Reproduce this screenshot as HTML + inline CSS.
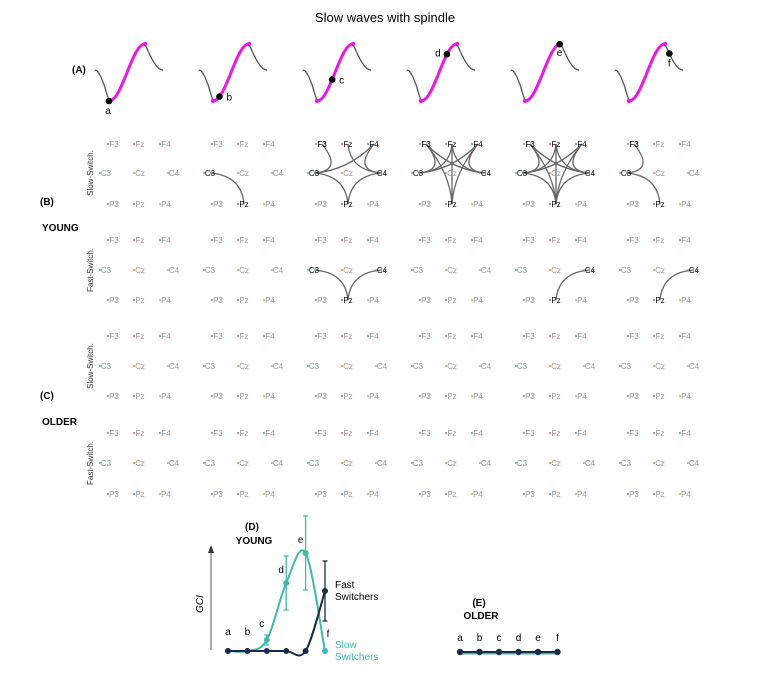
<!DOCTYPE html>
<html><head><meta charset="utf-8">
<style>
body{margin:0;background:#fff;font-family:"Liberation Sans",sans-serif}
svg text{font-family:"Liberation Sans",sans-serif}
</style></head>
<body>
<svg id="fig" width="769" height="674" viewBox="0 0 769 674">
<text x="385" y="22" font-size="13" text-anchor="middle">Slow waves with spindle</text>
<text x="72" y="73" font-size="10" font-weight="bold">(A)</text>
<text x="40" y="205" font-size="10" font-weight="bold">(B)</text>
<text x="42" y="231" font-size="10" font-weight="bold">YOUNG</text>
<text x="40" y="399" font-size="10" font-weight="bold">(C)</text>
<text x="42" y="425" font-size="10" font-weight="bold">OLDER</text>
<g id="waves"></g>
<g id="nets"></g>
<g id="pd"></g>
<g id="pe"></g>
</svg>
<script>
const NS="http://www.w3.org/2000/svg";
function mk(t,a,p){const e=document.createElementNS(NS,t);for(const k in a)e.setAttribute(k,a[k]);p.appendChild(e);return e;}
// ---------- Panel A: waves ----------
const phaseLabels=["a","b","c","d","e","f"];
const phasePos=[0,0.18,0.42,0.72,0.96,1.12]; // position along rising phase (0=trough,1=peak)
const colX=[140,244,348,452,556,660];
const W=document.getElementById('waves');
function wave(cx,t){ // t from -0.4 to 1.5 ; trough at 0, peak at 1
  const x=cx-30+t*35; const y=72-28*Math.cos(Math.PI*(t<0?t*1.8:t))*1; return [x,y];}
function wpt(cx,t){const x=cx-31+t*36;let y;
 if(t<0){y=101-31*Math.sin(Math.PI/2*(-t/0.4));}else if(t<=1){y=72.5+28.5*Math.cos(Math.PI*t);}else{y=44+26*Math.sin(Math.PI/2*((t-1)/0.5));}
 return [x,y];}
colX.forEach((cx,i)=>{
  let d="";for(let t=-0.4;t<=1.501;t+=0.02){const p=wpt(cx,t);d+=(d?"L":"M")+p[0].toFixed(1)+","+p[1].toFixed(1);}
  const g=mk('path',{d:d,fill:"none",stroke:"#555","stroke-width":1.3},W);
  
  let d2="";for(let t=0;t<=1.001;t+=0.02){const p=wpt(cx,t);d2+=(d2?"L":"M")+p[0].toFixed(1)+","+p[1].toFixed(1);}
  const m=mk('path',{d:d2,fill:"none",stroke:"#e619e6","stroke-width":3},W);
  
  const p0=wpt(cx,0),p1=wpt(cx,1);
  mk('circle',{cx:p0[0],cy:p0[1],r:2.2,fill:"#e619e6"},W);mk('circle',{cx:p1[0],cy:p1[1],r:2.2,fill:"#e619e6"},W);
  const q=wpt(cx,phasePos[i]);
  const dot=mk('circle',{cx:q[0],cy:q[1],r:3.3,fill:"#000"},W);
  
  const lo=[[0,13],[7,4],[7,4],[-9,2],[0,12],[0,13]][i];
  const tx=mk('text',{x:q[0]+lo[0]+(i==0?-1:0),y:q[1]+lo[1]+(i==0?0:0),"font-size":10,"text-anchor":i==3?"middle":"start"},W);
  tx.textContent=phaseLabels[i];
  if(i==0){tx.setAttribute('text-anchor','middle');}
  if(i>=4){tx.setAttribute('text-anchor','middle');}
});
// ---------- Networks ----------
const nodeNames=["F3","Fz","F4","C3","Cz","C4","P3","Pz","P4"];
const nodeDx=[-26,0,26,-34,0,34,-26,0,26];
const nodeRow=[0,0,0,1,1,1,2,2,2];
const nodeCol=["#c0392b","#c0392b","#2c6fb0","#2c8fb0","#c87030","#888","#7a4aa0","#2c6fb0","#b09a20"];
const blockY=[[144,173,204],[240,270,300],[336,366,396],[433,463,494]];
const youngSlowEdges=[[],["C3-Pz"],["F3-C3","Fz-C4","F4-C3","F4-C4","C3-Pz","C4-Pz"],
 ["F3-C3","F3-C4","F3-Pz","Fz-C3","Fz-C4","Fz-Pz","F4-C3","F4-C4","F4-Pz"],
 ["F3-C3","F3-C4","F3-Pz","Fz-C3","Fz-C4","Fz-Pz","F4-C3","F4-C4","F4-Pz","C3-Pz","C4-Pz"],
 ["F3-C3","C3-Pz"]];
const youngFastEdges=[[],[],["C3-Pz","C4-Pz"],[],["C4-Pz"],["C4-Pz"]];
const olderSlowEdges=[[],[],[],[],[],[]];
const olderFastEdges=[[],[],[],[],[],[]];
const blocks=[youngSlowEdges,youngFastEdges,olderSlowEdges,olderFastEdges];
const N=document.getElementById('nets');
const rl=[["Slow-Switch.",173],["Fast-Switch.",270],["Slow-Switch.",366],["Fast-Switch.",463]];
rl.forEach(r=>{const t=mk('text',{x:0,y:0,"font-size":8,"text-anchor":"middle",fill:"#333",transform:`translate(93,${r[1]}) rotate(-90)`},N);t.textContent=r[0];
 });
blocks.forEach((blk,bi)=>{colX.forEach((cx,ci)=>{
  const g=mk('g',{},N);
  const pos=n=>{const k=nodeNames.indexOf(n);return [cx+nodeDx[k],blockY[bi][nodeRow[k]]];};
  const active=new Set();const ctr=[cx,blockY[bi][1]];
  blk[ci].forEach(e=>{const [a,b]=e.split("-");active.add(a);active.add(b);
    const p=pos(a),q=pos(b);const m=[(p[0]+q[0])/2,(p[1]+q[1])/2];
    const c=[m[0]+(ctr[0]-m[0])*0.85,m[1]+(ctr[1]-m[1])*0.85];
    const pe=mk('path',{d:`M${p[0]},${p[1]}Q${c[0]},${c[1]} ${q[0]},${q[1]}`,fill:"none",stroke:"#666","stroke-width":1.3},g);
    });
  nodeNames.forEach((n,k)=>{const p=pos(n);const on=active.has(n);
    mk('circle',{cx:p[0]-6,cy:p[1],r:0.9,fill:nodeCol[k]},g);
    const t=mk('text',{x:p[0],y:p[1]+3,"font-size":8,"text-anchor":"middle",fill:on?"#000":"#999"},g);t.textContent=n;
    });
});});
// ---------- Panel D ----------
const slowGCI=[0,0,0.11,0.68,0.98,0];
const slowErr=[0,0,0.05,0.27,0.37,0];
const fastGCI=[0,0,0,0,0,0.6];
const fastErr=[0,0,0,0,0,0.3];
const D=document.getElementById('pd');
const xD=i=>228+i*19.4, yD=v=>651-v*100;
function spline(pts){let d=`M${pts[0][0]},${pts[0][1]}`;for(let i=0;i<pts.length-1;i++){const p0=pts[Math.max(0,i-1)],p1=pts[i],p2=pts[i+1],p3=pts[Math.min(pts.length-1,i+2)];
 const c1=[p1[0]+(p2[0]-p0[0])/6,p1[1]+(p2[1]-p0[1])/6],c2=[p2[0]-(p3[0]-p1[0])/6,p2[1]-(p3[1]-p1[1])/6];d+=`C${c1[0]},${c1[1]} ${c2[0]},${c2[1]} ${p2[0]},${p2[1]}`;}return d;}
mk('line',{x1:211,y1:650,x2:211,y2:552,stroke:"#333","stroke-width":0.8},D);
mk('path',{d:"M208,553 L211,545 L214,553 Z",fill:"#333"},D);
const gci=mk('text',{transform:"translate(203,604) rotate(-90)","font-size":10,"font-style":"italic","text-anchor":"middle"},D);gci.textContent="GCI";
const dl=mk('text',{x:252,y:530,"font-size":10,"font-weight":"bold","text-anchor":"middle"},D);dl.textContent="(D)";
const dy=mk('text',{x:254,y:544,"font-size":10,"font-weight":"bold","text-anchor":"middle"},D);dy.textContent="YOUNG";
function series(vals,errs,col,name,par){
  const g=mk('g',{},par);
  const pts=vals.map((v,i)=>[xD(i),yD(v)]);
  mk('path',{d:spline(pts),fill:"none",stroke:col,"stroke-width":2},g);
  vals.forEach((v,i)=>{if(errs[i]>0){const x=xD(i);mk('path',{d:`M${x},${yD(v-errs[i])}V${yD(v+errs[i])}M${x-2.5},${yD(v-errs[i])}h5M${x-2.5},${yD(v+errs[i])}h5`,stroke:col,"stroke-width":1.3,fill:"none"},g);}
   const c=mk('circle',{cx:xD(i),cy:yD(v),r:3,fill:col},g);});
}
series(slowGCI,slowErr,"#3fb8b0","slow-switchers-series",D);
series(fastGCI,fastErr,"#1b2a4a","fast-switchers-series",D);
slowGCI.forEach((v,i)=>{const top=Math.max(v,fastGCI[i]);let y=i==5?637:yD(v)-(i<2?16:(slowErr[i]+0.05)*100);let x=xD(i)-(i>=2&&i<5?5:0)+(i==5?3:0);
 if(i==3)y=573;if(i==4)y=543;if(i==2)y=627;
 const t=mk('text',{x:x,y:y,"font-size":10,"text-anchor":"middle"},D);t.textContent=phaseLabels[i];});
const f1=mk('text',{x:335,y:588,"font-size":10},D);f1.textContent="Fast";
const f2=mk('text',{x:335,y:600,"font-size":10},D);f2.textContent="Switchers";
const s1=mk('text',{x:335,y:648,"font-size":10,fill:"#3fb8b0"},D);s1.textContent="Slow";
const s2=mk('text',{x:335,y:660,"font-size":10,fill:"#3fb8b0"},D);s2.textContent="Switchers";
// ---------- Panel E ----------
const olderSlow=[0,0,0,0,0,0];
const olderFast=[0,0,0,0,0,0];
const E=document.getElementById('pe');
const xE=i=>460+i*19.5, yE=v=>652-v*100;
const el=mk('text',{x:479,y:606,"font-size":10,"font-weight":"bold","text-anchor":"middle"},E);el.textContent="(E)";
const eo=mk('text',{x:481,y:619,"font-size":10,"font-weight":"bold","text-anchor":"middle"},E);eo.textContent="OLDER";
mk('path',{d:olderSlow.map((v,i)=>(i?"L":"M")+xE(i)+","+(yE(v)+1.5)).join(""),stroke:"#3fb8b0","stroke-width":2,fill:"none"},E);
mk('path',{d:olderFast.map((v,i)=>(i?"L":"M")+xE(i)+","+yE(v)).join(""),stroke:"#1b2a4a","stroke-width":2,fill:"none"},E);
olderFast.forEach((v,i)=>{const c=mk('circle',{cx:xE(i),cy:yE(v),r:3.2,fill:"#1b2a4a"},E);
 const t=mk('text',{x:xE(i),y:641,"font-size":10,"text-anchor":"middle"},E);t.textContent=phaseLabels[i];});
</script>
</body></html>
